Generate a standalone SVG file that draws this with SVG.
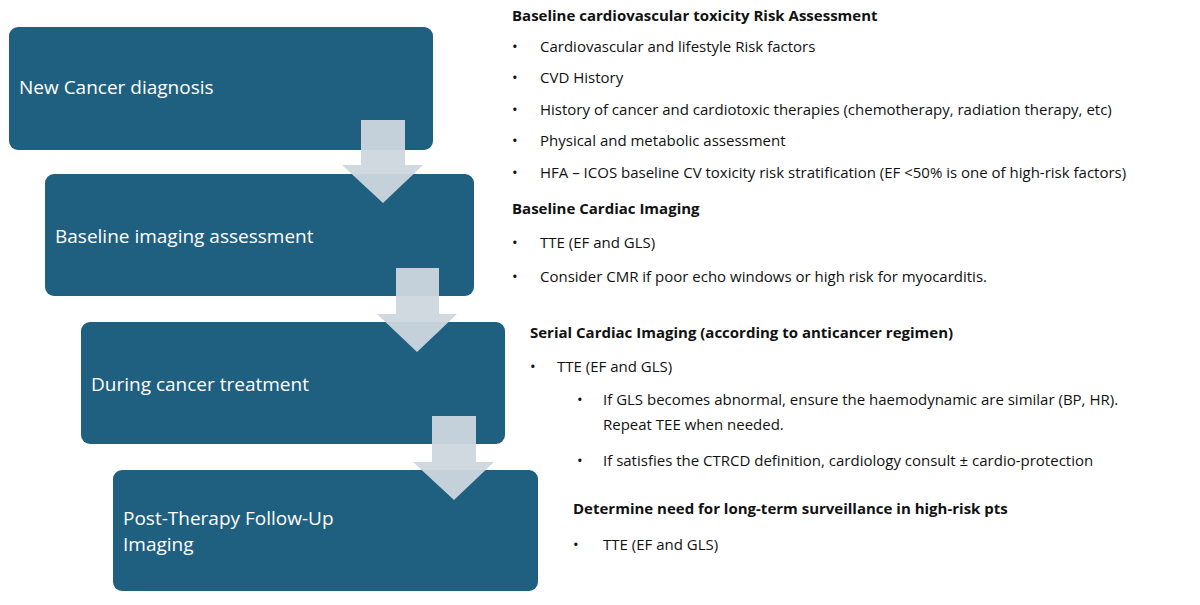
<svg xmlns="http://www.w3.org/2000/svg" width="1200" height="605" viewBox="0 0 1200 605">
<style>
.box{fill:#1f5f80}
.lbl{font-family:"Open Sans","Liberation Sans",sans-serif;font-size:19px;fill:#fff}
.t{font-family:"Open Sans","Liberation Sans",sans-serif;font-size:15px;fill:#111}
.b{font-weight:bold}
.arr{fill:#cdd6de;opacity:0.95}
</style>
<rect width="1200" height="605" fill="#fff"/>
<g id="n1"><rect class="box" x="9" y="27" width="424" height="123" rx="9"/><text class="lbl" x="19" y="94">New Cancer diagnosis</text></g>
<g id="n2"><rect class="box" x="45" y="174" width="429" height="122" rx="9"/><text class="lbl" x="55" y="243">Baseline imaging assessment</text></g>
<g id="n3"><rect class="box" x="81" y="322" width="424" height="122" rx="9"/><text class="lbl" x="91" y="391">During cancer treatment</text></g>
<g id="n4"><rect class="box" x="113" y="470" width="425" height="121" rx="9"/><text class="lbl" x="123" y="525">Post-Therapy Follow-Up</text><text class="lbl" x="123" y="551">Imaging</text></g>
<g id="connectors">
<polygon class="arr" points="361,120 405,120 405,165 423,165 383,203 342,165 361,165"/>
<polygon class="arr" points="396,268 439,268 439,314 457,314 417,352 377,314 396,314"/>
<polygon class="arr" points="432,416 476,416 476,462 494,462 454,500 413,462 432,462"/>
</g>
<g id="text">
<text class="t b" x="512" y="21">Baseline cardiovascular toxicity Risk Assessment</text>
<text class="t" x="512" y="52">•</text><text class="t" x="540" y="52">Cardiovascular and lifestyle Risk factors</text>
<text class="t" x="512" y="83">•</text><text class="t" x="540" y="83">CVD History</text>
<text class="t" x="512" y="115">•</text><text class="t" x="540" y="115">History of cancer and cardiotoxic therapies (chemotherapy, radiation therapy, etc)</text>
<text class="t" x="512" y="146">•</text><text class="t" x="540" y="146">Physical and metabolic assessment</text>
<text class="t" x="512" y="178">•</text><text class="t" x="540" y="178">HFA – ICOS baseline CV toxicity risk stratification (EF &lt;50% is one of high-risk factors)</text>
<text class="t b" x="512" y="214">Baseline Cardiac Imaging</text>
<text class="t" x="512" y="248">•</text><text class="t" x="540" y="248">TTE (EF and GLS)</text>
<text class="t" x="512" y="282">•</text><text class="t" x="540" y="282">Consider CMR if poor echo windows or high risk for myocarditis.</text>
<text class="t b" x="530" y="338">Serial Cardiac Imaging (according to anticancer regimen)</text>
<text class="t" x="530" y="372">•</text><text class="t" x="557" y="372">TTE (EF and GLS)</text>
<text class="t" x="577" y="405">•</text><text class="t" x="603" y="405">If GLS becomes abnormal, ensure the haemodynamic are similar (BP, HR).</text>
<text class="t" x="603" y="430">Repeat TEE when needed.</text>
<text class="t" x="577" y="466">•</text><text class="t" x="603" y="466">If satisfies the CTRCD definition, cardiology consult ± cardio-protection</text>
<text class="t b" x="573" y="514">Determine need for long-term surveillance in high-risk pts</text>
<text class="t" x="573" y="550">•</text><text class="t" x="603" y="550">TTE (EF and GLS)</text>
</g>
</svg>
